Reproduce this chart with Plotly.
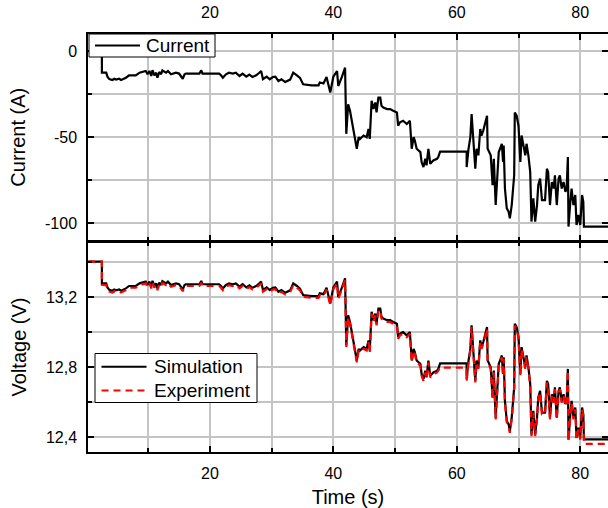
import plotly.graph_objects as go

# Sampled drive cycle: time, pack current, simulated and measured terminal voltage
time_s = [
    0.3, 2.5, 2.5, 3.2, 3.4, 3.7, 4.2, 4.5, 4.8, 5.3, 5.6, 5.9, 6.4, 6.9, 8.0, 8.6, 9.1, 9.6, 9.9, 10.2,
    10.5, 10.7, 11.0, 11.3, 11.5, 11.8, 12.1, 12.3, 12.9, 13.2, 13.7, 14.0, 14.5, 15.0, 15.6, 15.9, 16.1, 18.3, 18.6, 18.8,
    21.5, 21.8, 22.1, 22.6, 23.1, 23.7, 24.2, 24.8, 25.3, 25.9, 26.4, 26.9, 27.5, 28.0, 28.3, 28.6, 29.2, 29.7, 30.2, 30.6,
    31.1, 31.6, 32.2, 33.0, 33.5, 34.1, 34.6, 35.1, 35.7, 36.5, 37.6, 37.8, 38.4, 38.9, 39.5, 40.0, 40.6, 40.8, 41.4, 41.9,
    42.1, 42.4, 42.7, 43.0, 43.2, 43.5, 43.8, 44.1, 44.3, 44.9, 45.4, 45.7, 45.9, 46.2, 46.5, 46.8, 47.0, 47.3, 47.6, 47.8,
    48.1, 48.7, 49.2, 49.7, 50.3, 50.5, 50.8, 51.3, 51.9, 52.4, 52.7, 53.0, 53.2, 53.5, 54.1, 54.3, 54.6, 54.9, 55.1, 55.4,
    55.7, 56.2, 56.8, 57.0, 57.3, 61.6, 61.6, 61.9, 62.2, 62.4, 62.6, 62.7, 63.0, 63.2, 63.5, 63.8, 64.0, 64.3, 64.5, 64.9,
    65.0, 65.2, 65.5, 65.8, 66.0, 66.3, 66.5, 66.8, 67.0, 67.3, 67.5, 67.6, 67.8, 68.1, 68.4, 68.6, 68.9, 69.1, 69.3, 69.4,
    69.7, 70.0, 70.3, 70.5, 70.8, 71.1, 71.3, 71.6, 71.9, 72.1, 72.4, 72.7, 73.0, 73.2, 73.5, 73.8, 74.3, 74.6, 74.8, 75.1,
    75.4, 75.7, 75.9, 76.2, 76.5, 76.7, 77.0, 77.3, 77.6, 77.8, 78.0, 78.1, 78.4, 78.6, 78.9, 79.2, 79.4, 79.7, 80.0, 80.3,
    80.5, 80.6, 84.6,
]

current_a = [
    0.0, 0.0, -12.5, -12.5, -14.8, -16.2, -16.7, -16.0, -16.5, -16.0, -16.7, -16.2, -15.4, -14.0, -14.0, -12.5, -12.1, -11.5, -13.4, -11.5,
    -14.4, -11.0, -14.0, -12.5, -15.4, -12.1, -13.4, -11.2, -12.5, -11.5, -13.4, -13.0, -12.5, -13.0, -16.0, -13.4, -13.0, -13.0, -11.1, -13.0,
    -13.0, -14.0, -15.4, -13.4, -12.5, -13.0, -12.5, -14.4, -13.0, -14.8, -13.6, -15.0, -14.0, -12.5, -11.5, -16.3, -14.8, -16.3, -15.0, -14.8,
    -17.3, -16.3, -17.9, -16.5, -12.5, -14.0, -15.5, -19.2, -19.5, -19.8, -19.8, -18.2, -18.7, -15.0, -24.0, -14.8, -11.5, -20.2, -14.8, -9.6,
    -48.0, -30.8, -34.6, -40.4, -45.2, -51.0, -56.7, -50.0, -51.0, -49.0, -50.0, -45.2, -51.0, -28.8, -33.6, -29.8, -35.6, -26.9, -26.9, -31.7,
    -32.7, -33.6, -33.6, -34.6, -35.6, -43.3, -41.3, -40.4, -42.3, -40.4, -56.7, -50.0, -51.9, -56.7, -58.6, -64.4, -67.3, -62.5, -66.3, -56.7,
    -65.4, -63.5, -62.5, -61.5, -58.3, -58.3, -67.3, -56.7, -50.0, -36.5, -49.0, -56.7, -68.3, -56.7, -60.5, -45.2, -49.0, -46.0, -43.3, -37.5,
    -56.7, -58.6, -60.5, -77.9, -62.5, -89.4, -76.0, -58.6, -56.7, -53.8, -64.4, -54.8, -79.8, -91.3, -93.3, -97.1, -89.4, -81.7, -72.1, -35.6,
    -37.5, -43.3, -64.4, -49.0, -54.8, -60.5, -53.8, -60.5, -70.2, -99.0, -85.5, -99.0, -89.4, -77.9, -74.0, -86.5, -86.5, -68.3, -70.2, -89.4,
    -76.0, -79.8, -72.1, -89.4, -74.0, -72.1, -79.8, -76.0, -81.7, -79.8, -61.5, -101.9, -87.5, -79.8, -89.4, -83.6, -101.0, -95.2, -101.0, -83.6,
    -87.5, -101.9, -101.9,
]

voltage_sim_v = [
    13.405, 13.405, 13.280, 13.280, 13.257, 13.243, 13.238, 13.245, 13.240, 13.245, 13.238, 13.243, 13.251, 13.265, 13.265, 13.280, 13.284, 13.290, 13.271, 13.290,
    13.261, 13.295, 13.265, 13.280, 13.251, 13.284, 13.271, 13.293, 13.280, 13.290, 13.271, 13.275, 13.280, 13.275, 13.245, 13.271, 13.275, 13.275, 13.294, 13.275,
    13.275, 13.265, 13.251, 13.271, 13.280, 13.275, 13.280, 13.261, 13.275, 13.257, 13.269, 13.255, 13.265, 13.280, 13.290, 13.242, 13.257, 13.242, 13.255, 13.257,
    13.232, 13.242, 13.226, 13.240, 13.280, 13.265, 13.250, 13.213, 13.210, 13.207, 13.207, 13.223, 13.218, 13.255, 13.165, 13.257, 13.290, 13.203, 13.257, 13.309,
    12.925, 13.097, 13.059, 13.001, 12.953, 12.895, 12.838, 12.905, 12.895, 12.915, 12.905, 12.953, 12.895, 13.117, 13.069, 13.107, 13.049, 13.136, 13.136, 13.088,
    13.078, 13.069, 13.069, 13.059, 13.049, 12.972, 12.992, 13.001, 12.982, 13.001, 12.838, 12.905, 12.886, 12.838, 12.819, 12.761, 12.732, 12.780, 12.742, 12.838,
    12.751, 12.770, 12.780, 12.790, 12.822, 12.822, 12.732, 12.838, 12.905, 13.040, 12.915, 12.838, 12.722, 12.838, 12.800, 12.953, 12.915, 12.945, 12.972, 13.030,
    12.838, 12.819, 12.800, 12.626, 12.780, 12.511, 12.645, 12.819, 12.838, 12.867, 12.761, 12.857, 12.607, 12.492, 12.472, 12.434, 12.511, 12.588, 12.684, 13.049,
    13.030, 12.972, 12.761, 12.915, 12.857, 12.800, 12.867, 12.800, 12.703, 12.415, 12.550, 12.415, 12.511, 12.626, 12.665, 12.540, 12.540, 12.722, 12.703, 12.511,
    12.645, 12.607, 12.684, 12.511, 12.665, 12.684, 12.607, 12.645, 12.588, 12.607, 12.790, 12.386, 12.530, 12.607, 12.511, 12.569, 12.395, 12.453, 12.395, 12.569,
    12.530, 12.386, 12.386,
]

voltage_exp_v = [
    13.405, 13.405, 13.272, 13.270, 13.247, 13.233, 13.228, 13.235, 13.230, 13.235, 13.228, 13.233, 13.241, 13.255, 13.255, 13.270, 13.274, 13.280, 13.261, 13.280,
    13.251, 13.285, 13.255, 13.270, 13.241, 13.274, 13.261, 13.283, 13.270, 13.280, 13.261, 13.265, 13.270, 13.265, 13.235, 13.261, 13.265, 13.265, 13.284, 13.265,
    13.265, 13.255, 13.241, 13.261, 13.270, 13.265, 13.270, 13.251, 13.265, 13.247, 13.259, 13.245, 13.255, 13.270, 13.280, 13.232, 13.247, 13.232, 13.245, 13.247,
    13.222, 13.232, 13.216, 13.230, 13.270, 13.255, 13.240, 13.203, 13.200, 13.197, 13.197, 13.213, 13.208, 13.245, 13.155, 13.247, 13.280, 13.193, 13.247, 13.299,
    12.915, 13.087, 13.049, 12.991, 12.943, 12.885, 12.828, 12.895, 12.885, 12.905, 12.895, 12.943, 12.885, 13.107, 13.059, 13.097, 13.039, 13.126, 13.126, 13.078,
    13.068, 13.059, 13.059, 13.049, 13.039, 12.962, 12.982, 12.991, 12.972, 12.991, 12.828, 12.895, 12.876, 12.828, 12.809, 12.751, 12.722, 12.770, 12.732, 12.828,
    12.741, 12.760, 12.770, 12.780, 12.797, 12.797, 12.722, 12.828, 12.895, 13.030, 12.905, 12.828, 12.712, 12.828, 12.790, 12.943, 12.905, 12.935, 12.962, 13.020,
    12.828, 12.809, 12.790, 12.616, 12.770, 12.501, 12.635, 12.809, 12.828, 12.857, 12.751, 12.847, 12.597, 12.482, 12.462, 12.424, 12.501, 12.578, 12.674, 13.039,
    13.020, 12.962, 12.751, 12.905, 12.847, 12.790, 12.857, 12.790, 12.693, 12.405, 12.540, 12.405, 12.501, 12.616, 12.655, 12.530, 12.530, 12.712, 12.693, 12.501,
    12.635, 12.597, 12.674, 12.501, 12.655, 12.674, 12.597, 12.635, 12.578, 12.597, 12.780, 12.376, 12.520, 12.597, 12.501, 12.559, 12.385, 12.443, 12.385, 12.559,
    12.520, 12.361, 12.361,
]

time_ticks = [20, 40, 60, 80]
current_ticks = [-100, -50, 0]
current_tick_text = ["-100", "-50", "0"]
voltage_ticks = [12.4, 12.8, 13.2]
voltage_tick_text = ["12,4", "12,8", "13,2"]

FONT = "Liberation Sans, Arial, sans-serif"
GRID = "#c4c4c4"
W, H = 608, 508
L, R, T, B = 88, 0, 34, 56
PW, PH = W - L - R, H - T - B
SPLIT = 210 / PH            # lower (voltage) panel height share
GAP = 1.5 / PH              # lets the two shared frame lines coincide

SIM_LINE = dict(color="black", width=2.2)
EXP_LINE = dict(color="red", width=2.2, dash="7px,5px")

fig = go.Figure()
fig.add_trace(go.Scatter(
    x=time_s, y=current_a, mode="lines", name="Current",
    line=SIM_LINE, xaxis="x", yaxis="y", showlegend=False,
))
fig.add_trace(go.Scatter(
    x=time_s, y=voltage_sim_v, mode="lines", name="Simulation",
    line=SIM_LINE, xaxis="x2", yaxis="y2", showlegend=False,
))
fig.add_trace(go.Scatter(
    x=time_s, y=voltage_exp_v, mode="lines", name="Experiment",
    line=EXP_LINE, xaxis="x2", yaxis="y2", showlegend=False,
))


def frame(**kw):
    base = dict(
        showline=True, linecolor="black", linewidth=1.5, mirror="ticks",
        ticks="inside", ticklen=6, tickwidth=1.5, tickcolor="black",
        showgrid=True, gridcolor=GRID, gridwidth=2, zeroline=False,
        tickfont=dict(size=16, color="black"), ticklabelstandoff=6,
        automargin=False,
    )
    base.update(kw)
    return base


def minor(step, start):
    return dict(dtick=step, tick0=start, ticks="inside", ticklen=4, tickcolor="black",
                showgrid=True, gridcolor=GRID, gridwidth=2)


# Boxed legends drawn in paper space (pixel positions converted to paper fractions)
def px(x):
    return (x - L) / PW


def py(y):
    return (H - B - y) / PH


shapes, annotations = [], []


def legend_box(x0, y0, x1, y1, entries):
    shapes.append(dict(type="rect", xref="paper", yref="paper", layer="above",
                       x0=px(x0), x1=px(x1), y0=py(y1), y1=py(y0),
                       fillcolor="white", line=dict(color="black", width=1)))
    for (name, line, yc, lx0, lx1, tx) in entries:
        shapes.append(dict(type="line", xref="paper", yref="paper", layer="above",
                           x0=px(lx0), x1=px(lx1), y0=py(yc), y1=py(yc),
                           line=dict(line, width=2)))
        annotations.append(dict(text=name, xref="paper", yref="paper", x=px(tx), y=py(yc),
                                xanchor="left", yanchor="middle", showarrow=False,
                                font=dict(size=19, color="black"), borderpad=0))


legend_box(89, 34, 215, 57, [(fig.data[0].name, SIM_LINE, 45.5, 95, 140, 145)])
legend_box(95, 353.5, 257, 402.5, [
    (fig.data[1].name, SIM_LINE, 366.7, 101.5, 146.5, 153),
    (fig.data[2].name, EXP_LINE, 390.5, 101.5, 146.5, 153),
])

x_range = [0.25, 84.5]
fig.update_layout(
    width=W, height=H, autosize=False,
    margin=dict(l=L, r=R, t=T, b=B, pad=0, autoexpand=False),
    paper_bgcolor="white", plot_bgcolor="white",
    font=dict(family=FONT, color="black", size=16),
    showlegend=False,
    xaxis=frame(domain=[0, 1], anchor="y", side="top", range=x_range,
                tickmode="array", tickvals=time_ticks, minor=minor(10, 0),
                ticklabelstandoff=8),
    xaxis2=frame(domain=[0, 1], anchor="y2", side="bottom", range=x_range,
                 tickmode="array", tickvals=time_ticks, minor=minor(10, 0),
                 title=dict(text="Time (s)", font=dict(size=20), standoff=20)),
    yaxis=frame(domain=[SPLIT + GAP, 1], anchor="x", range=[-110, 10],
                tickmode="array", tickvals=current_ticks, ticktext=current_tick_text,
                minor=minor(25, 0),
                title=dict(text="Current (A)", font=dict(size=20), standoff=14)),
    yaxis2=frame(domain=[0, SPLIT], anchor="x2", range=[12.314, 13.517],
                 tickmode="array", tickvals=voltage_ticks, ticktext=voltage_tick_text,
                 minor=minor(0.2, 12.4),
                 title=dict(text="Voltage (V)", font=dict(size=20), standoff=14)),
    shapes=shapes,
    annotations=annotations,
)

fig.write_html("out.html")
